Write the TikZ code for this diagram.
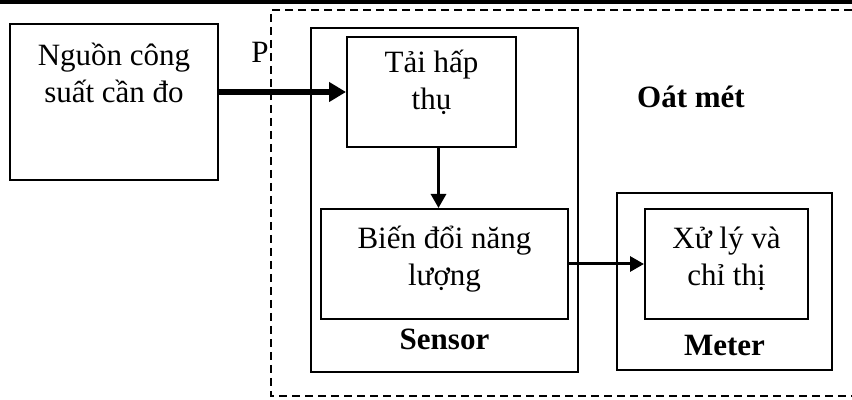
\documentclass[tikz,border=0pt]{standalone}
\usepackage{fontspec}
\setmainfont{Liberation Serif}
\usetikzlibrary{arrows.meta, positioning}

\begin{document}
\begin{tikzpicture}[x=0.5pt, y=-0.5pt, >={Triangle[length=7pt, width=7.5pt]},
    blockbox/.style={draw, line width=1pt, inner sep=0pt},
    blocktext/.style={align=center, inner sep=0pt, font=\fontsize{15.5}{18.5}\selectfont},
    blocklabel/.style={inner sep=0pt, font=\fontsize{15.5}{18.5}\selectfont\bfseries}]
    \useasboundingbox (0,0) rectangle (852,400);
    % top rule and dashed frame of the wattmeter
    \draw[line width=2pt] (0,2) -- (852,2);
    \draw[line width=0.75pt, dash pattern=on 4pt off 2.5pt] (852,10) -- (271,10) -- (271,396) -- (852,396);

    % blocks
    \node[blockbox, minimum width=104pt, minimum height=78pt] (src) at (114,102) {};
    \node[blockbox, minimum width=133.5pt, minimum height=172pt] (sensor) at (444.5,200) {};
    \node[blockbox, minimum width=84.5pt, minimum height=55pt] (tai) at (431.5,92) {};
    \node[blockbox, minimum width=123.5pt, minimum height=55pt] (bien) at (444.5,264) {};
    \node[blockbox, minimum width=107.5pt, minimum height=88.5pt] (meter) at (724.5,281.5) {};
    \node[blockbox, minimum width=81.5pt, minimum height=55pt] (xuly) at (726.5,264) {};

    % texts
    \node[blocktext] (srctext) at (114,73) {Nguồn công\\suất cần đo};
    \node[blocktext] (taitext) at (431.5,82) {Tải hấp\\thụ};
    \node[blocktext] (bientext) at (444.5,259) {Biến đổi năng\\lượng};
    \node[blocktext] (xulytext) at (726.5,259) {Xử lý và\\chỉ thị};
    \node[blocktext] (ptext) at (260,52) {P};
    \node[blocklabel] (sensorlabel) at (444.5,339) {Sensor};
    \node[blocklabel] (meterlabel) at (724.5,346) {Meter};
    \node[blocklabel] (watt) at (691,97) {Oát mét};

    % connections
    \draw[line width=3pt, -{Triangle[length=8.5pt, width=9.5pt]}] (tai.west -| src.east) -- (tai.west);
    \draw[line width=1.5pt, ->] ([xshift=3.5pt]tai.south) -- ([xshift=3.5pt]tai.south |- bien.north);
    \draw[line width=1.5pt, ->] (bien.east) -- (xuly.west);
\end{tikzpicture}
\end{document}
